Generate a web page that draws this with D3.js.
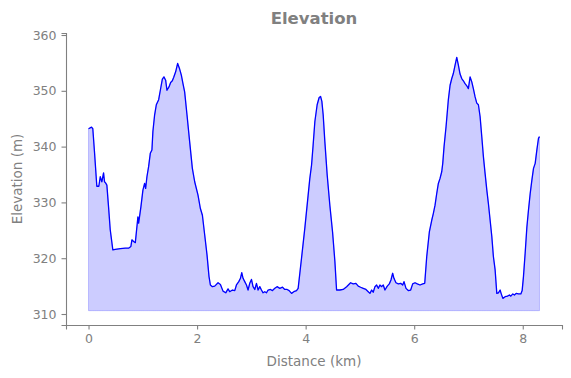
<!DOCTYPE html>
<html>
<head>
<meta charset="utf-8">
<script src="https://cdn.jsdelivr.net/npm/d3@7"></script>
<style>
  body { margin: 0; background: #fff; }
  svg text { font-family: "DejaVu Sans", sans-serif; fill: #808080; }
</style>
</head>
<body>
<div id="chart"></div>
<script>
// distance along the route (km)
var distance = [
  0.000, 0.055, 0.079, 0.111, 0.153, 0.190, 0.216, 0.245, 0.277, 0.295, 0.314, 0.338, 0.369, 0.400, 0.448, 0.493,
  0.585, 0.677, 0.738, 0.780, 0.799, 0.830, 0.862, 0.891, 0.910, 0.923, 0.965, 1.002, 1.033, 1.052, 1.076, 1.107,
  1.138, 1.168, 1.186, 1.218, 1.249, 1.292, 1.323, 1.360, 1.389, 1.421, 1.445, 1.482, 1.513, 1.544, 1.568, 1.605,
  1.642, 1.679, 1.710, 1.740, 1.771, 1.814, 1.863, 1.913, 1.956, 2.017, 2.061, 2.098, 2.140, 2.183, 2.220, 2.245,
  2.282, 2.325, 2.386, 2.430, 2.478, 2.528, 2.570, 2.601, 2.651, 2.694, 2.725, 2.768, 2.799, 2.823, 2.847, 2.878,
  2.910, 2.939, 2.970, 3.002, 3.031, 3.063, 3.094, 3.124, 3.155, 3.186, 3.216, 3.247, 3.279, 3.308, 3.352, 3.389,
  3.432, 3.474, 3.524, 3.574, 3.616, 3.659, 3.696, 3.740, 3.782, 3.832, 3.862, 3.893, 3.924, 3.985, 4.046, 4.077,
  4.109, 4.138, 4.170, 4.212, 4.249, 4.275, 4.299, 4.323, 4.354, 4.397, 4.446, 4.496, 4.539, 4.570, 4.631, 4.692,
  4.755, 4.828, 4.876, 4.926, 4.969, 5.013, 5.061, 5.111, 5.153, 5.185, 5.216, 5.245, 5.277, 5.308, 5.338, 5.369,
  5.400, 5.430, 5.461, 5.504, 5.541, 5.572, 5.603, 5.627, 5.664, 5.707, 5.751, 5.788, 5.812, 5.849, 5.891, 5.935,
  5.972, 6.015, 6.057, 6.107, 6.157, 6.194, 6.231, 6.279, 6.323, 6.352, 6.384, 6.415, 6.445, 6.476, 6.507, 6.526,
  6.550, 6.587, 6.629, 6.661, 6.692, 6.721, 6.753, 6.784, 6.814, 6.845, 6.876, 6.906, 6.937, 6.969, 6.998, 7.030,
  7.061, 7.090, 7.122, 7.153, 7.183, 7.214, 7.245, 7.275, 7.306, 7.338, 7.367, 7.399, 7.430, 7.459, 7.491, 7.522,
  7.552, 7.583, 7.601, 7.633, 7.675, 7.718, 7.755, 7.780, 7.817, 7.847, 7.878, 7.921, 7.965, 7.989, 8.013, 8.044,
  8.076, 8.105, 8.137, 8.168, 8.198, 8.229, 8.260, 8.290, 8.308
];

// elevation (m)
var elevation = [
  343.2, 343.5, 343.2, 338.9, 332.9, 332.9, 334.6, 333.7, 335.3, 333.7, 333.5, 333.1, 329.2, 325.1, 321.5, 321.6,
  321.7, 321.8, 321.8, 322.1, 323.3, 323.0, 322.8, 325.6, 327.4, 326.3, 329.2, 332.2, 333.4, 332.5, 334.6, 336.4,
  338.8, 339.4, 342.7, 345.7, 347.5, 348.4, 350.1, 352.1, 352.5, 351.9, 350.1, 350.7, 351.5, 351.8, 352.4, 353.4,
  354.9, 353.9, 352.8, 351.3, 349.8, 345.7, 340.9, 336.1, 333.7, 331.3, 328.9, 327.7, 324.2, 320.6, 316.7, 315.2,
  314.9, 315.0, 315.6, 315.3, 314.1, 313.8, 314.5, 314.0, 314.3, 314.2, 315.2, 315.8, 316.4, 317.4, 316.4, 315.8,
  315.2, 314.3, 315.5, 316.2, 314.9, 314.4, 315.5, 314.3, 314.9, 314.3, 313.8, 314.0, 313.8, 314.3, 314.4, 314.2,
  314.6, 314.9, 314.6, 314.8, 314.4, 314.4, 314.2, 313.7, 314.0, 314.2, 314.6, 317.3, 320.0, 325.4, 331.3, 334.3,
  336.7, 340.3, 344.5, 347.5, 348.8, 349.0, 348.1, 345.7, 340.9, 334.9, 329.5, 324.7, 319.4, 314.3, 314.3, 314.4,
  314.9, 315.6, 315.4, 315.5, 315.0, 314.8, 314.6, 314.4, 314.0, 313.7, 314.3, 313.9, 314.9, 315.2, 314.6, 315.2,
  314.9, 315.2, 314.3, 315.0, 315.4, 316.1, 317.3, 316.4, 315.6, 315.4, 315.5, 315.2, 315.8, 314.6, 314.2, 314.3,
  315.4, 315.6, 315.4, 315.2, 315.4, 315.5, 320.3, 324.7, 326.8, 328.0, 329.5, 331.6, 333.4, 334.3, 335.5, 337.0,
  340.0, 343.6, 348.4, 351.0, 352.2, 353.1, 354.6, 356.0, 354.6, 353.0, 352.2, 351.8, 351.3, 350.9, 350.4, 352.5,
  351.6, 350.4, 348.9, 347.8, 347.5, 345.4, 341.8, 338.2, 335.2, 332.2, 329.8, 326.8, 323.9, 320.3, 317.9, 313.7,
  313.8, 314.3, 313.7, 312.8, 313.1, 313.2, 313.4, 313.2, 313.6, 313.4, 313.7, 313.6, 313.6, 314.2, 316.7, 320.9,
  325.6, 328.6, 331.6, 334.0, 336.1, 337.0, 339.4, 341.5, 341.8
];

var fillBase = 310.6;
var xTicks = [0, 2, 4, 6, 8];
var yTicks = [310, 320, 330, 340, 350, 360];
var xDomain = [-0.415, 8.723];
var yDomain = [308.03, 360.36];

var data = distance.map(function(d, i) { return { km: d, elev: elevation[i] }; });

var margin = {top: 33, right: 9, bottom: 53, left: 66}
  , width = 571 - margin.left - margin.right
  , height = 378 - margin.top - margin.bottom;

var x = d3.scaleLinear().domain(xDomain).range([0, width]);
var y = d3.scaleLinear().domain(yDomain).range([height, 0]);

var svg = d3.select('#chart')
  .append('svg')
  .attr('width', 571)
  .attr('height', 378);

var main = svg.append('g')
  .attr('transform', 'translate(' + margin.left + ',' + margin.top + ')');

// shaded area under the profile
var area = d3.area()
  .x(function(d) { return x(d.km); })
  .y0(y(fillBase))
  .y1(function(d) { return y(d.elev); });

main.append('path')
  .datum(data)
  .attr('d', area)
  .attr('fill', 'blue')
  .attr('fill-opacity', 0.2)
  .attr('stroke', 'blue')
  .attr('stroke-opacity', 0.2)
  .attr('stroke-width', 1);

// the profile line
var line = d3.line()
  .x(function(d) { return x(d.km); })
  .y(function(d) { return y(d.elev); });

main.append('path')
  .datum(data)
  .attr('d', line)
  .attr('fill', 'none')
  .attr('stroke', 'blue')
  .attr('stroke-width', 1.3)
  .attr('stroke-linejoin', 'round');

// axes, matplotlib style (left and bottom spines only)
var xAxis = d3.axisBottom(x).tickValues(xTicks).tickFormat(d3.format('d')).tickSizeOuter(0).tickSize(4.5).tickPadding(5);
var yAxis = d3.axisLeft(y).tickValues(yTicks).tickFormat(d3.format('d')).tickSizeOuter(0).tickSize(4.5).tickPadding(5);

var gx = main.append('g')
  .attr('transform', 'translate(0,' + height + ')')
  .call(xAxis);
var gy = main.append('g')
  .call(yAxis);

[gx, gy].forEach(function(g) {
  g.select('.domain').attr('stroke', '#808080').attr('stroke-width', 1.1);
  g.selectAll('.tick line').attr('stroke', '#808080').attr('stroke-width', 1.1);
  g.selectAll('.tick text')
    .style('font-family', '"DejaVu Sans", sans-serif')
    .style('font-size', '12.5px')
    .attr('fill', '#808080');
});

// title
svg.append('text')
  .attr('text-anchor', 'middle')
  .attr('x', margin.left + width / 2)
  .attr('y', 24)
  .style('font-size', '16.5px')
  .style('font-weight', 'bold')
  .text('Elevation');

// x-axis title
svg.append('text')
  .attr('text-anchor', 'middle')
  .attr('x', margin.left + width / 2)
  .attr('y', 366)
  .style('font-size', '13.5px')
  .text('Distance (km)');

// y-axis title
svg.append('text')
  .attr('text-anchor', 'middle')
  .attr('transform', 'translate(22,' + (margin.top + height / 2) + ')rotate(-90)')
  .style('font-size', '13.5px')
  .text('Elevation (m)');
</script>
</body>
</html>
